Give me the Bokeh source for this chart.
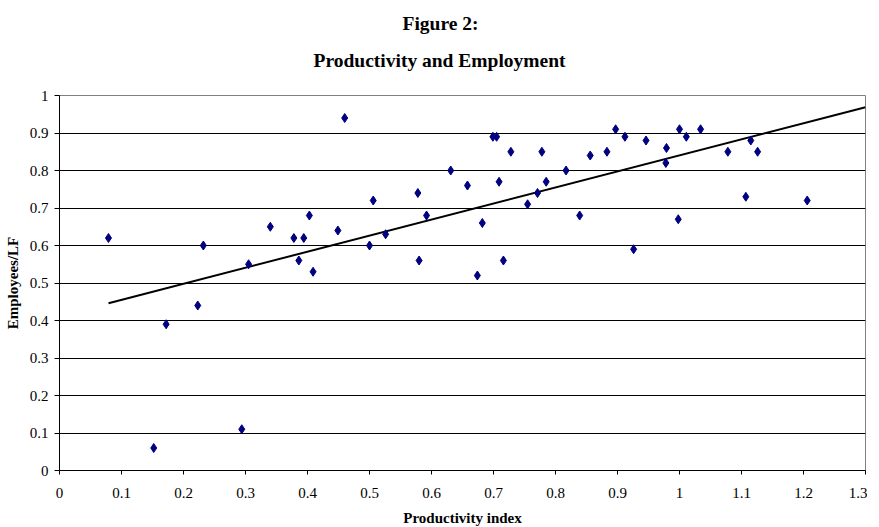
import numpy as np
from bokeh.plotting import figure
from bokeh.models import FixedTicker, ColumnDataSource, Title
from bokeh.embed import file_html
from bokeh.resources import INLINE

# ---- data ----
productivity = [0.079, 0.152, 0.172, 0.223, 0.232, 0.294, 0.305, 0.340, 0.378, 0.386,
                0.394, 0.403, 0.409, 0.449, 0.460, 0.500, 0.506, 0.526, 0.578, 0.580,
                0.592, 0.631, 0.658, 0.674, 0.682, 0.699, 0.705, 0.709, 0.716, 0.728,
                0.755, 0.771, 0.778, 0.785, 0.817, 0.839, 0.856, 0.883, 0.897, 0.912,
                0.926, 0.946, 0.979, 0.978, 0.998, 1.000, 1.011, 1.034, 1.078, 1.107,
                1.115, 1.126, 1.206]
employment = [0.62, 0.06, 0.39, 0.44, 0.60, 0.11, 0.55, 0.65, 0.62, 0.56,
              0.62, 0.68, 0.53, 0.64, 0.94, 0.60, 0.72, 0.63, 0.74, 0.56,
              0.68, 0.80, 0.76, 0.52, 0.66, 0.89, 0.89, 0.77, 0.56, 0.85,
              0.71, 0.74, 0.85, 0.77, 0.80, 0.68, 0.84, 0.85, 0.91, 0.89,
              0.59, 0.88, 0.86, 0.82, 0.67, 0.91, 0.89, 0.91, 0.85, 0.73,
              0.88, 0.85, 0.72]
trend_end = 1.3

x_ticks = [0, 0.1, 0.2, 0.3, 0.4, 0.5, 0.6, 0.7, 0.8, 0.9, 1.0, 1.1, 1.2, 1.3]
x_tick_labels = ["0", "0.1", "0.2", "0.3", "0.4", "0.5", "0.6", "0.7", "0.8", "0.9",
                 "1", "1.1", "1.2", "1.3"]
y_ticks = [0, 0.1, 0.2, 0.3, 0.4, 0.5, 0.6, 0.7, 0.8, 0.9, 1.0]
y_tick_labels = ["0", "0.1", "0.2", "0.3", "0.4", "0.5", "0.6", "0.7", "0.8", "0.9", "1"]

title_line1 = "Figure 2:"
title_line2 = "Productivity and Employment"
x_title = "Productivity index"
y_title = "Employees/LF"

# linear trend (least squares) from the data, extended to the axis end
slope, intercept = np.polyfit(productivity, employment, 1)
trend_x = [min(productivity), trend_end]
trend_y = [intercept + slope * v for v in trend_x]

SERIF = "Liberation Serif"

p = figure(frame_width=806, frame_height=375, x_range=(0, 1.3), y_range=(0, 1),
           output_backend="svg", toolbar_location=None,
           min_border_left=59, min_border_right=2, min_border_top=95, min_border_bottom=40)
p.background_fill_color = "white"
p.border_fill_color = "white"
p.outline_line_color = "#808080"
p.outline_line_width = 1

p.line(trend_x, trend_y, line_color="black", line_width=2)
src = ColumnDataSource(dict(x=productivity, y=employment))
p.scatter("x", "y", source=src, marker="diamond", size=9,
          fill_color="#000080", line_color="#000080")

# axes
p.xaxis.ticker = FixedTicker(ticks=x_ticks)
p.xaxis.major_label_overrides = {t: l for t, l in zip(x_ticks, x_tick_labels)}
p.yaxis.ticker = FixedTicker(ticks=y_ticks)
p.yaxis.major_label_overrides = {t: l for t, l in zip(y_ticks, y_tick_labels)}
for ax in (p.xaxis, p.yaxis):
    ax.axis_line_color = "black"
    ax.axis_line_width = 1
    ax.major_tick_line_color = "black"
    ax.major_tick_in = 0
    ax.minor_tick_line_color = None
    ax.major_label_text_font = SERIF
    ax.major_label_text_font_size = "15px"
    ax.major_label_text_color = "black"
    ax.axis_label_text_font = SERIF
    ax.axis_label_text_font_size = "15px"
    ax.axis_label_text_font_style = "bold"
    ax.axis_label_text_color = "black"
p.xaxis.axis_label = x_title
p.yaxis.axis_label = y_title
p.xaxis.major_tick_out = 4
p.yaxis.major_tick_out = 5
p.xaxis.major_label_standoff = 13
p.xaxis.axis_label_standoff = 9
p.yaxis.major_label_standoff = 6
p.yaxis.axis_label_standoff = 6

p.xgrid.grid_line_color = None
p.ygrid.ticker = FixedTicker(ticks=y_ticks)
p.ygrid.grid_line_color = "black"
p.ygrid.grid_line_width = 1

# chart title: two lines, centered over the whole chart area
p.title.text = title_line1
p.title.align = "left"
p.title.vertical_align = "top"
p.title.offset = 343
p.title.standoff = -18
p.title.text_font = SERIF
p.title.text_font_size = "19.5px"
p.title.text_font_style = "bold"
p.title.text_color = "black"
p.add_layout(Title(text=title_line2, align="left", vertical_align="top",
                   offset=254, standoff=46,
                   text_font=SERIF, text_font_size="19.5px", text_font_style="bold",
                   text_color="black"), "above")

open("out.html", "w").write(file_html(p, INLINE))
